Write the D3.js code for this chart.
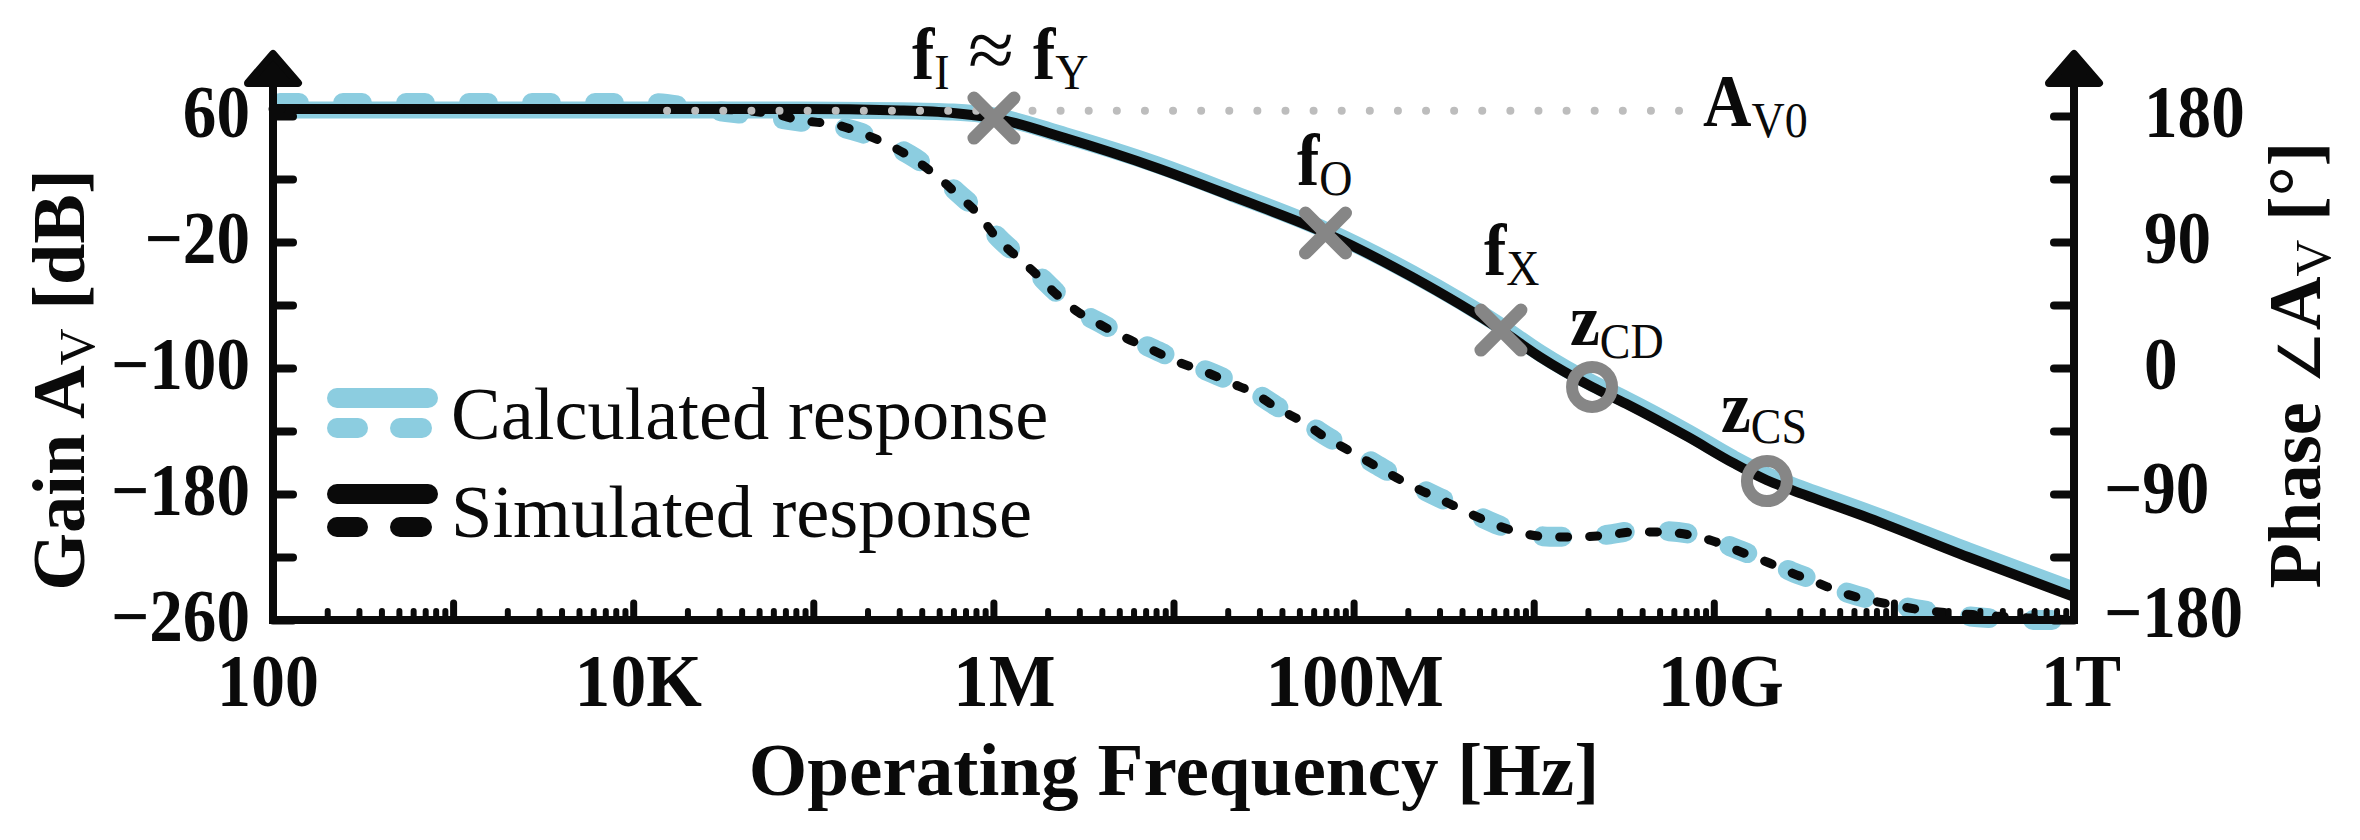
<!DOCTYPE html>
<html><head><meta charset="utf-8">
<script src="https://cdn.jsdelivr.net/npm/d3@7"></script>
<style>html,body{margin:0;background:#fff}svg{display:block}text{font-family:"Liberation Serif",serif;font-weight:700;fill:#0a0a0a}</style>
</head><body><svg id="c" width="2360" height="840"></svg>
<script>
// log10 of frequency [Hz]
const gainLogF=[2,4.926,5.481,5.776,6.003,6.398,6.908,7.336,7.844,8.324,8.818,9.035,9.324,9.513,9.857,10.107,10.295,10.434,10.862,11.411,12];
const gainSim=[64.4,64.4,63.5,61.9,58.7,46,27,8.6,-14.3,-42.2,-75.9,-93,-112,-122.7,-143.8,-160.3,-171.3,-177.5,-195.3,-220,-245.4];
const gainCalc=[63.8,63.8,63.4,62.5,60,47.5,29,10.5,-12.5,-40,-73.5,-90.5,-109.5,-120,-141,-157.5,-168.3,-174.5,-192,-216,-241];
const phaseLogF=[2,4.1,4.371,4.76,4.926,5.154,5.265,5.42,5.565,5.692,5.803,5.92,6.014,6.131,6.231,6.342,6.47,6.597,6.725,6.881,7.025,7.164,7.319,7.447,7.575,7.719,7.841,7.969,8.113,8.241,8.369,8.524,8.663,8.791,8.935,9.091,9.246,9.413,9.557,9.712,9.868,10.012,10.151,10.295,10.434,10.579,10.717,10.862,11,11.156,11.311,11.467,11.756,12];
const phaseSim=[185,185,185,182,177,172.9,167.9,159.3,148.6,136.4,123.6,109.3,93.6,79.3,67.9,53.6,40,30.7,22.1,12.9,4.3,-2.1,-10.7,-17.9,-28.6,-38.6,-49.3,-58.6,-69.3,-78.6,-87.1,-96.4,-105,-112.1,-117.9,-120.7,-120.7,-119.3,-117.1,-117.1,-119.3,-124.3,-131.4,-138.6,-146.4,-153.6,-160.7,-165.7,-169.3,-172.9,-175,-176.4,-178.6,-180];
const phaseCalc=[189.3,189.3,185,179,176,172,168,160,150,138,125,111,95,81,69,55,41,32,23,14,5.5,-1,-9.5,-17,-27.5,-37.5,-48,-57.5,-68,-77.5,-86,-95.5,-104,-111.5,-117.5,-120.5,-120.5,-119,-116.5,-116.5,-118.5,-123.5,-130.5,-137.5,-145.5,-152.5,-159.5,-165,-169,-173,-176,-178,-180,-180];
const avoRef=[4.188,9.812];  // log10 f range of the dotted A_V0 line
const avoVal=[64];
const markerNames=["fI","fO","fX","zCD","zCS"];
const markerLogF=[6.003,7.844,8.818,9.324,10.295];
const markerGain=[58.7,-14.3,-75.9,-112,-171.8];
const markerKind=["x","x","x","o","o"];
const gainTicks=[60,-20,-100,-180,-260];
const gainMinor=[20,-60,-140,-220];
const phaseTicks=[180,90,0,-90,-180];
const phaseMinor=[135,45,-45,-135];
const xLabelLogF=[2,4,6,8,10,12];
const xLabels=["100","10K","1M","100M","10G","1T"];
const legendNames=["Calculated response","Simulated response"];

const BLUE="#8ccde0",BLACK="#0a0a0a",GREY="#868686",DOT="#bdbdbd";
const W={l:273,r:2074,t:116,b:620},SX=0.92;
const xLabelShift=[-5,5,11,1,7,7],xLabelSx=[.93,.98,.97,1,.97,.94];
const svg=d3.select("#c");
const x=d3.scaleLog().domain([100,1e12]).range([W.l,W.r]);
const yG=d3.scaleLinear().domain([-260,60]).range([W.b,W.t]);
const yP=d3.scaleLinear().domain([-180,180]).range([W.b,W.t]);
const fx=v=>x(Math.pow(10,v));

const gLine=d3.line().x(d=>fx(d[0])).y(d=>yG(d[1])).curve(d3.curveMonotoneX);
const pLine=d3.line().x(d=>fx(d[0])).y(d=>yP(d[1])).curve(d3.curveMonotoneX);
const curve=(fn,xs,ys,col,w,dash,off)=>svg.append("path").attr("d",fn(d3.zip(xs,ys))).attr("fill","none")
  .attr("stroke",col).attr("stroke-width",w).attr("stroke-linecap",dash?"round":"butt").attr("stroke-dasharray",dash||null).attr("stroke-dashoffset",off||null);
curve(gLine,gainLogF,gainCalc,BLUE,17);
curve(pLine,phaseLogF,phaseCalc,BLUE,20,"19 44",-7);
curve(gLine,gainLogF,gainSim,BLACK,10);
curve(pLine,phaseLogF,phaseSim,BLACK,9,"8 22");
svg.append("line").attr("x1",fx(avoRef[0])).attr("x2",fx(avoRef[1])).attr("y1",yG(avoVal[0])+1).attr("y2",yG(avoVal[0])+1)
  .attr("stroke",DOT).attr("stroke-width",8).attr("stroke-linecap","round").attr("stroke-dasharray","0.01 28.1");

// axes
const styleAxis=(g,w)=>{g.selectAll("text").remove();g.selectAll("line").attr("stroke",BLACK).attr("stroke-width",w).attr("stroke-linecap","round");g.select(".domain").remove();};
const decades=d3.range(2,13).map(d=>Math.pow(10,d));
const minors=[];d3.range(2,12).forEach(d=>d3.range(2,10).forEach(m=>minors.push(m*Math.pow(10,d))));
svg.append("g").attr("transform",`translate(0,${W.b})`).call(d3.axisBottom(x).tickValues(minors).tickSize(-9)).call(styleAxis,6);
svg.append("g").attr("transform",`translate(0,${W.b})`).call(d3.axisBottom(x).tickValues(decades.slice(1)).tickSize(-17)).call(styleAxis,7);
svg.append("g").attr("transform",`translate(${W.l},0)`).call(d3.axisLeft(yG).tickValues(gainTicks.concat(gainMinor)).tickSize(-20)).call(styleAxis,8);
svg.append("g").attr("transform",`translate(${W.r},0)`).call(d3.axisRight(yP).tickValues(phaseTicks.concat(phaseMinor)).tickSize(-20)).call(styleAxis,8);
const frame=d3.path();frame.moveTo(W.l,70);frame.lineTo(W.l,W.b);frame.lineTo(W.r,W.b);frame.lineTo(W.r,70);
svg.append("path").attr("d",frame.toString()).attr("fill","none").attr("stroke",BLACK).attr("stroke-width",8).attr("stroke-linecap","butt").attr("stroke-linejoin","miter");
[W.l,W.r].forEach(c=>{
  const p=d3.path();p.moveTo(c,54);p.lineTo(c+25,83);p.lineTo(c-25,83);p.closePath();
  svg.append("path").attr("d",p.toString()).attr("fill",BLACK).attr("stroke",BLACK).attr("stroke-width",8).attr("stroke-linejoin","round");
});

// markers
markerNames.forEach((n,i)=>{
  const cx=fx(markerLogF[i]),cy=yG(markerGain[i]);
  if(markerKind[i]==="x"){
    const p=d3.path(),r=20;p.moveTo(cx-r,cy-r);p.lineTo(cx+r,cy+r);p.moveTo(cx+r,cy-r);p.lineTo(cx-r,cy+r);
    svg.append("path").attr("d",p.toString()).attr("stroke",GREY).attr("stroke-width",13).attr("stroke-linecap","round").attr("fill","none");
  } else {
    svg.append("circle").attr("cx",cx).attr("cy",cy).attr("r",20).attr("fill","none").attr("stroke",GREY).attr("stroke-width",12);
  }
});

// text helper: parts = [text, subscript?]
function label(tx,ty,parts,o={}){
  const size=o.size||73,sx=o.sx||SX,sub=o.subDy||10,subSize=o.subSize||50;
  const t=svg.append("text").attr("transform",`translate(${tx},${ty}) ${o.rot?`rotate(${o.rot}) `:""}scale(${sx},1)`)
    .attr("text-anchor",o.anchor||"start").attr("font-size",size);
  if(o.weight)t.style("font-weight",o.weight);
  let prev=false;
  parts.forEach(([s,kind])=>{
    const ts=t.append("tspan").text(s);
    if(kind===1)ts.attr("font-size",subSize).attr("dy",sub).style("font-weight",400);
    else if(prev)ts.attr("dy",-sub);
    if(kind===2)ts.attr("font-size",58).style("font-weight",400);
    prev=kind===1;
  });
  return t;
}
const fmt=v=>v<0?"\u2212"+(-v):""+v;
gainTicks.forEach(v=>label(250,yG(v)+21,[[fmt(v)]],{anchor:"end"}));
phaseTicks.forEach(v=>label(v<0?2104:2144,yP(v)+(v===-180?17:v===-90?19:21),[[fmt(v)]]));
xLabelLogF.forEach((v,i)=>label(fx(v)+xLabelShift[i],706,[[xLabels[i]]],{anchor:"middle",sx:xLabelSx[i]}));

label(1174,795,[["Operating Frequency [Hz]"]],{anchor:"middle",sx:1.03});
label(84,380,[["Gain A"],["V",1],[" [dB]"]],{anchor:"middle",rot:-90,sx:1.02});
label(2320,365,[["Phase "],["\u2220",2],["A"],["V",1],[" [\u00b0]"]],{anchor:"middle",rot:-90,sx:1.02});

label(912,79,[["f"],["I",1]]);
label(968,78,[["\u2248"]],{weight:400,size:84,sx:1});
label(1033,79,[["f"],["Y",1]]);
label(1297,185,[["f"],["O",1]]);
label(1484,275,[["f"],["X",1]]);
label(1570,345,[["z"],["CD",1]],{subDy:13});
label(1721,432,[["z"],["CS",1]],{subDy:11});
label(1703,126,[["A"],["V0",1]],{subDy:11});

// legend
const legY=[398,428,494,527],legCol=[BLUE,BLUE,BLACK,BLACK];
legY.forEach((y,i)=>{
  const segs=i%2?[[337,358],[400,422]]:[[337,428]];
  segs.forEach(s=>svg.append("line").attr("x1",s[0]).attr("x2",s[1]).attr("y1",y).attr("y2",y).attr("stroke",legCol[i]).attr("stroke-width",20).attr("stroke-linecap","round"));
});
legendNames.forEach((n,i)=>label(451,i?537:439,[[n]],{weight:400,sx:1.02}));
</script></body></html>
